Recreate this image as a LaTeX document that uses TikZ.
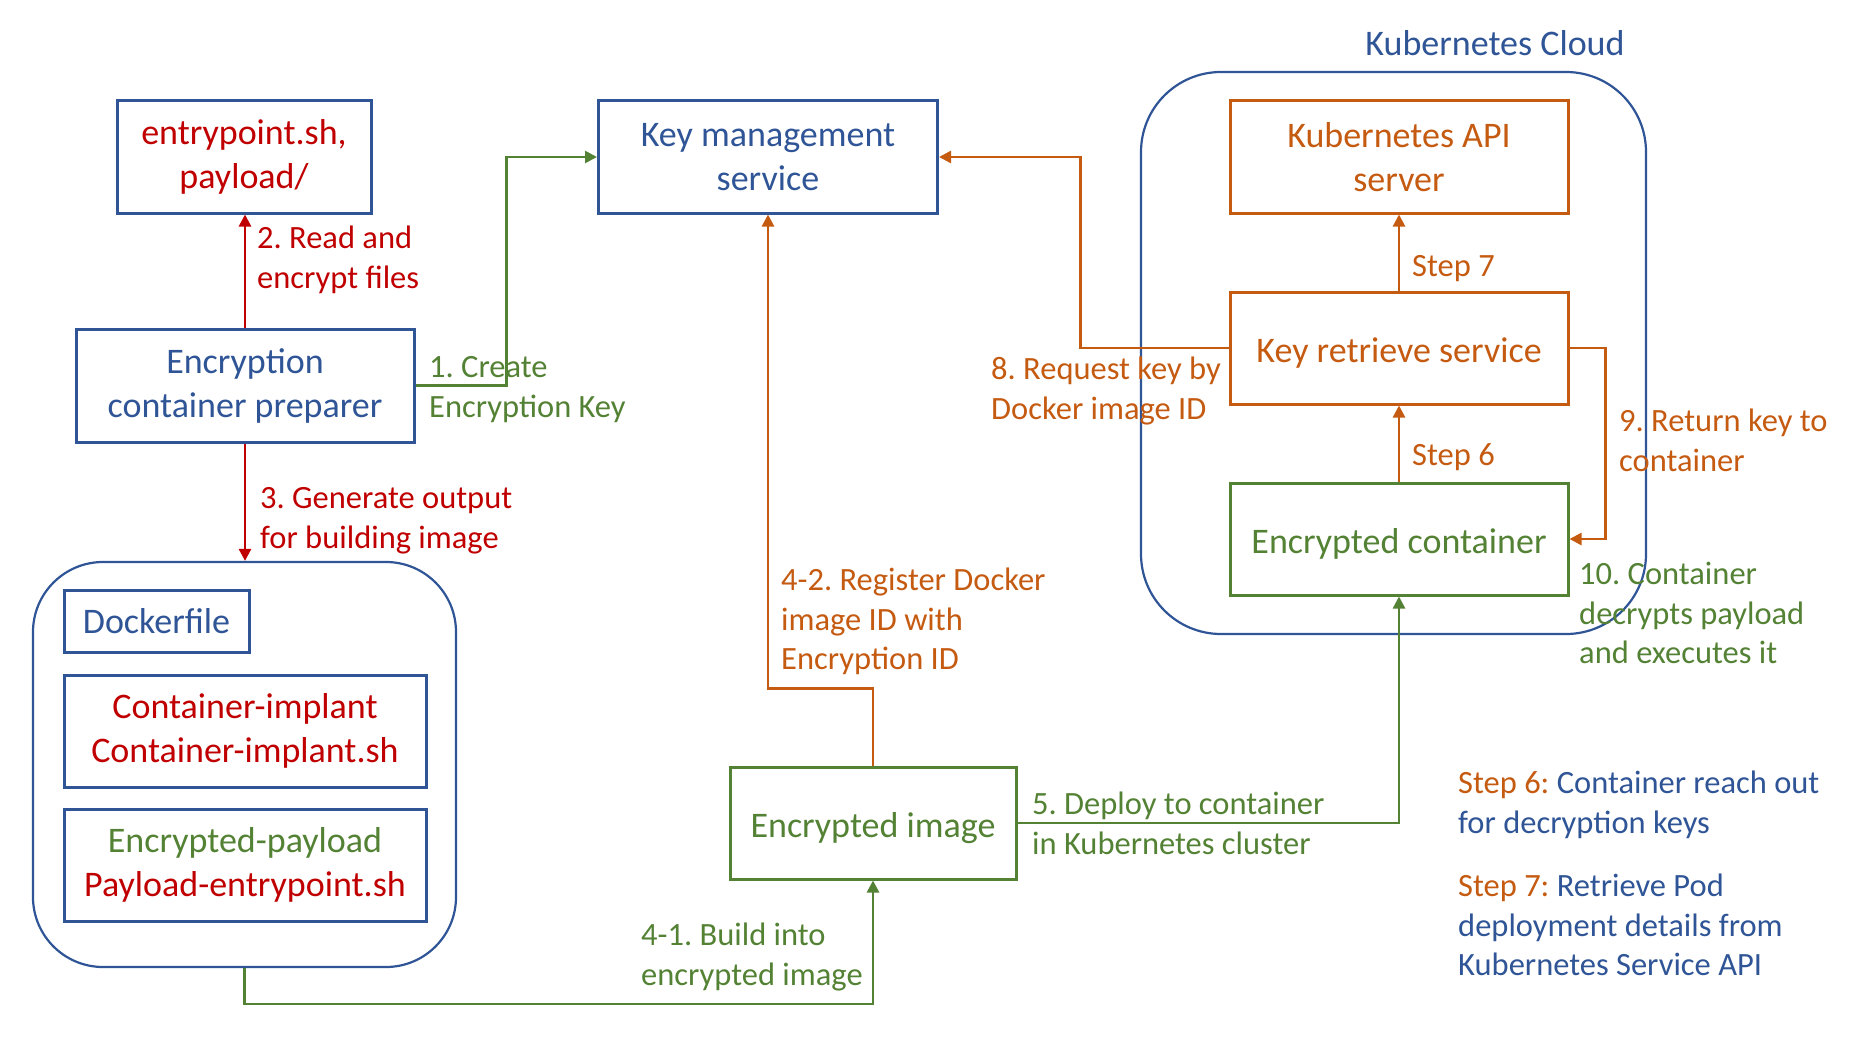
\documentclass[tikz,border=0pt]{standalone}
\usepackage{fontspec}
\setmainfont{Carlito}
\usetikzlibrary{arrows.meta,calc}
\definecolor{cblue}{HTML}{2F5597}
\definecolor{cred}{HTML}{C00000}
\definecolor{corange}{HTML}{C55A11}
\definecolor{cgreen}{HTML}{548235}
\newcommand{\boxfont}{\fontsize{36}{44}\selectfont}
\newcommand{\lblfont}{\fontsize{32.5}{39.5}\selectfont}
\frenchspacing
\tikzset{
  x=1pt,y=-1pt,
  box/.style={draw=#1,line width=3pt,rectangle,inner sep=0pt,align=center,font=\boxfont},
  onel/.style={text height=34pt,text depth=6pt},
  grp/.style={draw=cblue,line width=2.2pt,rectangle,rounded corners=#1,inner sep=0pt},
  lbl/.style={anchor=north west,inner sep=0pt,align=left,font=\lblfont\frenchspacing,text=#1},
  conn/.style={draw=#1,line width=2.6pt,-{Triangle[length=12pt,width=12pt]}},
}
\begin{document}
\frenchspacing
\begin{tikzpicture}
\useasboundingbox (0,0) rectangle (1867,1043);
% containers
\node[grp=70pt,minimum width=423pt,minimum height=405pt] (dock) at (244.5,764.5) {};
\node[grp=80pt,minimum width=505pt,minimum height=562pt] (cloud) at (1393.5,353) {};
\node[font=\boxfont,text=cblue,inner sep=0pt] (cloudt) at (1495,43) {Kubernetes Cloud};
% boxes
\node[box=cblue,text=cred,minimum width=254pt,minimum height=112pt] (entry) at (244,157) {entrypoint.sh,\\payload/};
\node[box=cblue,text=cblue,minimum width=339pt,minimum height=112pt] (kms) at (768,157) {Key management\\service};
\node[box=cblue,text=cblue,minimum width=338pt,minimum height=113pt] (ecp) at (245,385.5) {Encryption\\container preparer};
\node[box=corange,text=corange,minimum width=338pt,minimum height=112pt] (api) at (1399,157) {Kubernetes API\\server};
\node[box=corange,text=corange,onel,minimum width=338pt,minimum height=112pt] (krs) at (1399,348) {Key retrieve service};
\node[box=cgreen,text=cgreen,onel,minimum width=338pt,minimum height=112pt] (ec) at (1399,539) {Encrypted container};
\node[box=cgreen,text=cgreen,onel,minimum width=286pt,minimum height=112pt] (eimg) at (873,823) {Encrypted image};
\node[box=cblue,text=cblue,minimum width=185pt,minimum height=62pt] (dfile) at (156.5,621) {Dockerfile};
\node[box=cblue,text=cred,minimum width=362pt,minimum height=112pt] (impl) at (245,731) {Container-implant\\Container-implant.sh};
\node[box=cblue,minimum width=362pt,minimum height=112pt] (pay) at (245,865) {\textcolor{cgreen}{Encrypted-payload}\\\textcolor{cred}{Payload-entrypoint.sh}};
% connectors
\draw[conn=cgreen] (ecp.east) -- ++(91,0) |- (kms.west);
\draw[conn=cred] (ecp.north) -- (ecp.north |- entry.south);
\draw[conn=cred] (ecp.south) -- (ecp.south |- dock.north);
\draw[conn=cgreen] (dock.south) -- ++(0,36) -| (eimg.south);
\draw[conn=corange] (eimg.north) -- ++(0,-77) -| (kms.south);
\draw[conn=cgreen] (eimg.east) -| (ec.south);
\draw[conn=corange] (ec.north) -- (krs.south);
\draw[conn=corange] (krs.north) -- (api.south);
\draw[conn=corange] (krs.west) -- ++(-148,0) |- (kms.east);
\draw[conn=corange] (krs.east) -- ++(36,0) |- (ec.east);
% labels
\node[lbl=cred] (l2) at (257,221) {\strut 2. Read and\\encrypt files};
\node[lbl=cgreen] (l1) at (429,350) {\strut 1. Create\\Encryption Key};
\node[lbl=cred] (l3) at (260,481) {\strut 3. Generate output\\for building image};
\node[lbl=corange] (l42) at (781,563) {\strut 4-2. Register Docker\\image ID with\\Encryption ID};
\node[lbl=cgreen] (l41) at (641,918) {\strut 4-1. Build into\\encrypted image};
\node[lbl=cgreen] (l5) at (1032,787) {\strut 5. Deploy to container\\in Kubernetes cluster};
\node[lbl=corange] (ls7) at (1412,249) {\strut Step 7};
\node[lbl=corange] (ls6) at (1412,438) {\strut Step 6};
\node[lbl=corange] (l8) at (991,352) {\strut 8. Request key by\\Docker image ID};
\node[lbl=corange] (l9) at (1619,404) {\strut 9. Return key to\\container};
\node[lbl=cgreen] (l10) at (1579,557) {\strut 10. Container\\decrypts payload\\and executes it};
\node[lbl=cblue] (leg6) at (1458,766) {\strut\textcolor{corange}{Step 6:} Container reach out\\for decryption keys};
\node[lbl=cblue] (leg7) at (1458,869) {\strut\textcolor{corange}{Step 7:} Retrieve Pod\\deployment details from\\Kubernetes Service API};
\end{tikzpicture}
\end{document}
